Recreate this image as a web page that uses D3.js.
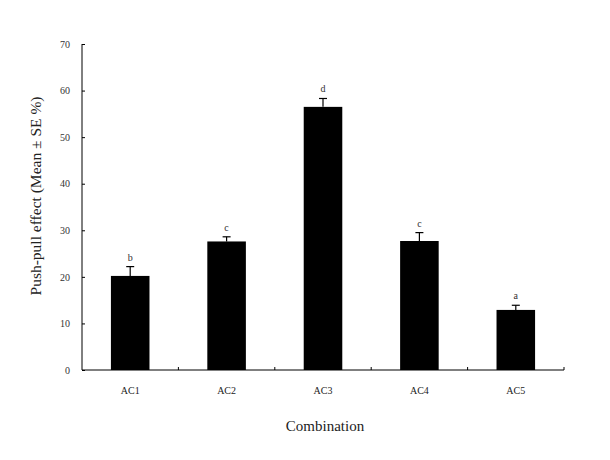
<!DOCTYPE html>
<html><head><meta charset="utf-8">
<script src="https://cdn.jsdelivr.net/npm/d3@7"></script>
<style>body{margin:0;background:#fff}svg{display:block}</style>
</head><body>
<svg id="c" width="610" height="460"></svg>
<script>
const categories = ["AC1","AC2","AC3","AC4","AC5"];
const means = [20.2, 27.6, 56.5, 27.7, 12.9];
const errors = [2.0, 1.0, 1.8, 1.8, 1.0];
const letters = ["b","c","d","c","a"];
const yTicks = [0,10,20,30,40,50,60,70];

const svg = d3.select("#c");
const m = {left:82, right:46, top:44, bottom:90};
const W = 610, H = 460;
const x = d3.scaleBand().domain(categories).range([m.left, W-m.right]).paddingInner(0).paddingOuter(0);
const y = d3.scaleLinear().domain([0,70]).range([H-m.bottom, m.top]);
const font = "'Liberation Serif', 'Times New Roman', serif";

// bars
const bw = x.bandwidth()*0.4;
svg.selectAll("rect.bar").data(categories).enter().append("rect")
  .attr("x", d => x(d)+x.bandwidth()/2-bw/2)
  .attr("y", (d,i) => y(means[i]))
  .attr("width", bw)
  .attr("height", (d,i) => y(0)-y(means[i]))
  .attr("fill", "#000");

// error bars
const eb = svg.append("g").attr("stroke","#000").attr("stroke-width",1.2);
categories.forEach((c,i) => {
  const cx = x(c)+x.bandwidth()/2;
  eb.append("line").attr("x1",cx).attr("x2",cx).attr("y1",y(means[i])).attr("y2",y(means[i]+errors[i]));
  eb.append("line").attr("x1",cx-4).attr("x2",cx+4).attr("y1",y(means[i]+errors[i])).attr("y2",y(means[i]+errors[i]));
});

// letters
svg.selectAll("text.let").data(categories).enter().append("text")
  .attr("x", d => x(d)+x.bandwidth()/2)
  .attr("y", (d,i) => y(means[i]+errors[i]) - 6)
  .attr("text-anchor","middle")
  .attr("font-family", font).attr("font-size", 10).attr("fill","#333")
  .text((d,i) => letters[i]);

// y axis
const yAxis = d3.axisLeft(y).tickValues(yTicks).tickSize(-3).tickPadding(12).tickFormat(d3.format("d"));
const gy = svg.append("g").attr("transform",`translate(${m.left},0)`).call(yAxis);
gy.select(".domain").attr("d", `M0,${y(70)}H0V${y(0)}`).attr("stroke","#000");
gy.selectAll(".tick line").attr("stroke","#000");
gy.selectAll("text").attr("font-family",font).attr("font-size",10).attr("fill","#333");

// x axis
const gx = svg.append("g").attr("transform",`translate(0,${y(0)})`);
gx.append("line").attr("x1",m.left).attr("x2",W-m.right).attr("y1",0).attr("y2",0).attr("stroke","#000");
const bounds = categories.map(c => x(c)+x.bandwidth());
gx.selectAll("line.tk").data(bounds).enter().append("line")
  .attr("x1",d=>d).attr("x2",d=>d).attr("y1",0).attr("y2",-3).attr("stroke","#000");
gx.selectAll("text").data(categories).enter().append("text")
  .attr("x", d => x(d)+x.bandwidth()/2).attr("y", 24)
  .attr("text-anchor","middle").attr("font-family",font).attr("font-size",10).attr("fill","#222")
  .text(d=>d);

// axis titles
svg.append("text").attr("x", (m.left+W-m.right)/2 + 2).attr("y", 431)
  .attr("text-anchor","middle").attr("font-family",font).attr("font-size",15).attr("fill","#222")
  .text("Combination");
svg.append("text").attr("transform",`translate(41,196) rotate(-90)`)
  .attr("text-anchor","middle").attr("font-family",font).attr("font-size",15.5).attr("fill","#222")
  .text("Push-pull effect (Mean ± SE %)");
</script>
</body></html>
